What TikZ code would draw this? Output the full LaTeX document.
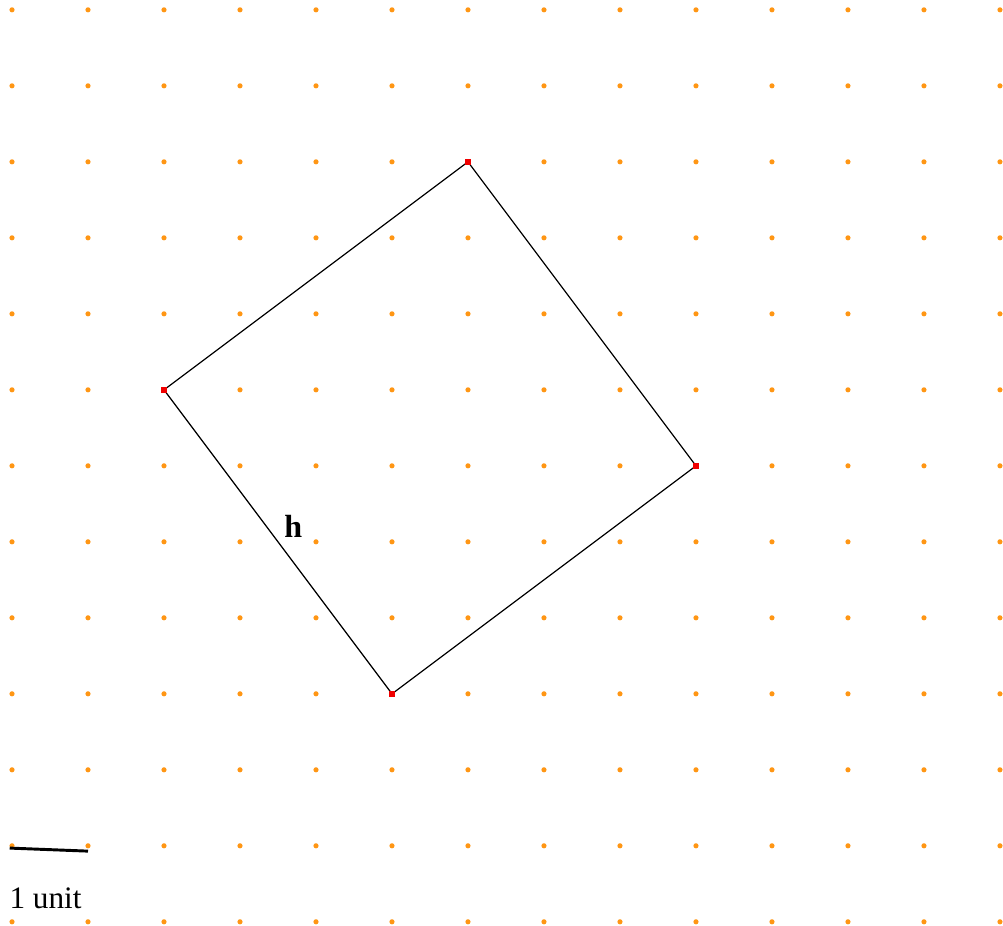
\documentclass[tikz,border=0pt]{standalone}
\usepackage{fontspec}
\setmainfont{Liberation Serif}
\usetikzlibrary{calc}
\definecolor{dotorange}{RGB}{255,150,20}
\definecolor{ptred}{RGB}{240,0,0}
\begin{document}
\begin{tikzpicture}
    \useasboundingbox (-0.158,-0.053) rectangle (13.04,12.13);
    \foreach \i in {0,...,13}
      \foreach \j in {0,...,12}
        \fill[dotorange] (\i,\j) circle (0.034);
    \coordinate (top) at (6,10);
    \coordinate (right) at (9,6);
    \coordinate (bottom) at (5,3);
    \coordinate (left) at (2,7);
    \draw[line width=0.45pt] (top)--(right)--(bottom)--(left)--cycle;
    \foreach \p in {top,right,bottom,left}
      \fill[ptred] ($(\p)+(-0.037,-0.037)$) rectangle ++(0.074,0.074);
    \node (h) at (3.70,5.20) {\fontsize{12pt}{14pt}\selectfont\bfseries h};
    \coordinate (barA) at (-0.03,0.97);
    \coordinate (barB) at (1,0.93);
    \draw[line width=1.1pt] (barA)--(barB);
    \node (unit) [anchor=base west,inner sep=0pt] at (-0.04,0.18) {\fontsize{11.7pt}{13pt}\selectfont 1 unit};
\end{tikzpicture}
\end{document}
